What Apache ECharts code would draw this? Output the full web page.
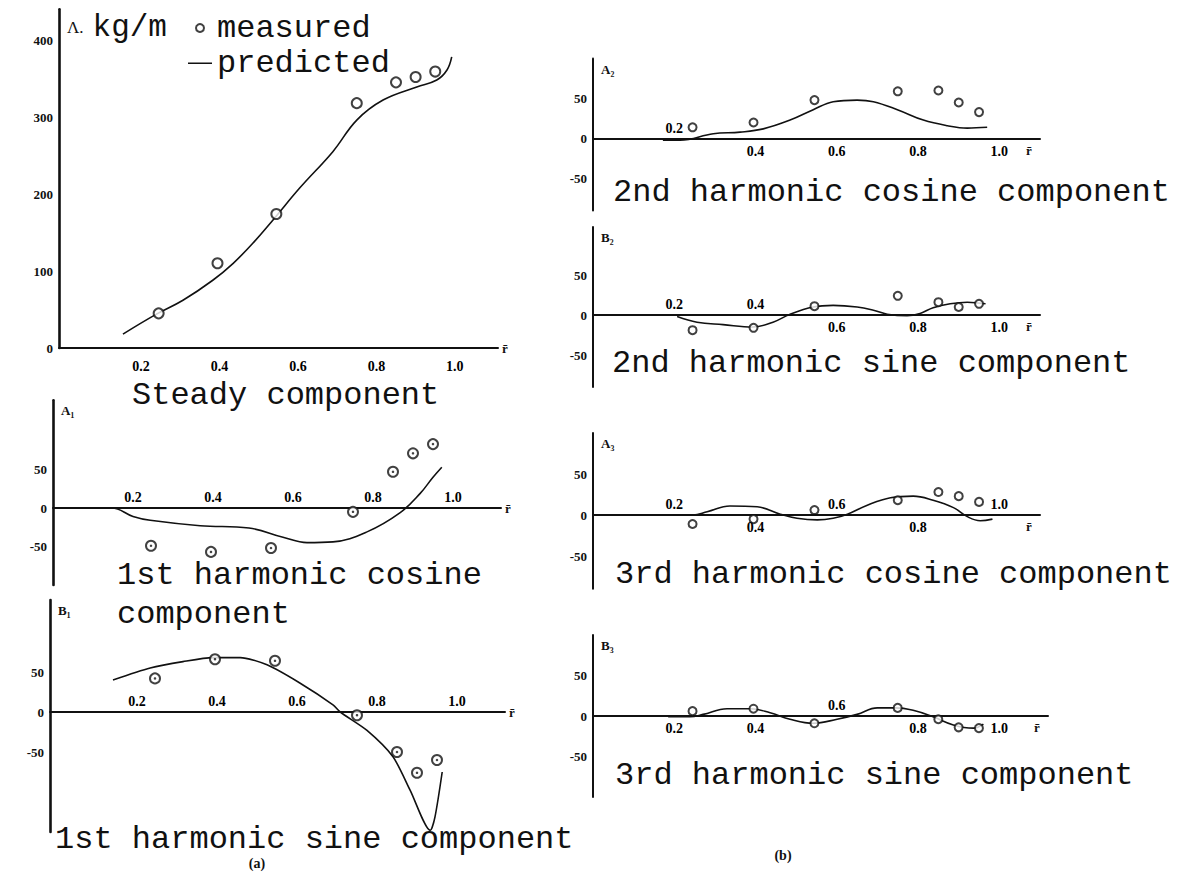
<!DOCTYPE html>
<html><head><meta charset="utf-8">
<script src="https://cdn.jsdelivr.net/npm/echarts@6/dist/echarts.min.js"></script>
<style>html,body{margin:0;padding:0;background:#fff}#c{width:1189px;height:877px}</style>
</head><body><div id="c"></div>
<script>
// ---- data ----
const rMeasured = [0.245, 0.395, 0.545, 0.75, 0.85, 0.90, 0.95];
const steadyMeasured = [45, 110, 174, 318, 345, 352, 359];
const a1Measured = [-49, -57, -52, -5, 47, 71, 83];
const b1Measured = [42, 66, 64, -4, -50, -76, -60];
const a2Measured = [14, 20, 48, 59, 60, 45, 33];
const b2Measured = [-19, -16, 11, 24, 16, 10, 14];
const a3Measured = [-11, -5, 6, 18, 28, 23, 16];
const b3Measured = [6, 9, -9, 10, -4, -14, -15];

const steadyPredR = [0.154, 0.236, 0.307, 0.383, 0.435, 0.485, 0.536, 0.605, 0.689, 0.75, 0.817, 0.903, 0.954, 0.98, 0.992];
const steadyPredV = [18, 43, 62, 88, 110, 136, 166, 208, 255, 296, 322, 339, 348, 361, 378];
const a1PredR = [0, 0.147, 0.2, 0.243, 0.368, 0.49, 0.575, 0.635, 0.70, 0.785, 0.868, 0.918, 0.95, 0.972];
const a1PredV = [0, 0, -11, -16, -23, -26, -38, -45, -44, -31, -6, 19, 40, 53];
const b1PredR = [0.14, 0.233, 0.315, 0.39, 0.458, 0.525, 0.608, 0.69, 0.708, 0.775, 0.84, 0.883, 0.933, 0.945, 0.963];
const b1PredV = [40, 55, 63, 68, 68, 59, 36, 9, 0, -23, -56, -98, -148, -131, -75];
const a2PredR = [0.172, 0.214, 0.296, 0.362, 0.419, 0.485, 0.542, 0.591, 0.65, 0.69, 0.749, 0.813, 0.872, 0.921, 0.97];
const a2PredV = [-2, -2, 6, 8, 12, 23, 36, 46, 48, 46, 36, 23, 16, 13, 14];
const b2PredR = [0.207, 0.256, 0.32, 0.394, 0.443, 0.485, 0.542, 0.591, 0.65, 0.69, 0.724, 0.773, 0.805, 0.837, 0.879, 0.921, 0.966];
const b2PredV = [-2, -9, -12, -15, -9, 1, 10, 12, 10, 6, 1, -1, 2, 9, 14, 16, 14];
const a3PredR = [0.197, 0.246, 0.281, 0.337, 0.404, 0.461, 0.502, 0.552, 0.591, 0.626, 0.675, 0.732, 0.788, 0.837, 0.887, 0.921, 0.953, 0.983];
const a3PredV = [0, 0, 4, 11, 10, 1, -4, -6, -4, 1, 12, 21, 23, 18, 9, -2, -7, -5];
const b3PredR = [0.185, 0.239, 0.271, 0.33, 0.387, 0.436, 0.485, 0.542, 0.601, 0.65, 0.70, 0.744, 0.788, 0.837, 0.887, 0.936, 0.961];
const b3PredV = [-1, -1, 2, 9, 9, 4, -4, -9, -4, 2, 10, 10, 7, -1, -11, -15, -10];

const xTickVals = [0.2, 0.4, 0.6, 0.8, 1.0];
const xTickText = ['0.2', '0.4', '0.6', '0.8', '1.0'];
const steadyYTicks = [0, 100, 200, 300, 400];
const harmYTicks = [-50, 0, 50];
const axisNames = ['Λ.kg/m', 'A₁', 'B₁', 'A₂', 'B₂', 'A₃', 'B₃'];
const captions = ['Steady component', '1st harmonic cosine', 'component', '1st harmonic sine component',
  '2nd harmonic cosine component', '2nd harmonic sine component', '3rd harmonic cosine component', '3rd harmonic sine component'];
const subLabels = ['(a)', '(b)'];
const legendNames = ['measured', 'predicted'];

// ---- layout ----
const SERIF = '"Liberation Serif", "DejaVu Serif", serif';
const MONO = '"Liberation Mono", "DejaVu Sans Mono", monospace';
const INK = '#111111';

const panels = [
  {g:{left:59, top:9.2, width:439, height:338.8}, x:[-0.009, 1.11], y:[0, 440], yi:100, yt:steadyYTicks,
   pr:steadyPredR, pv:steadyPredV, m:steadyMeasured, up:[0,0,0,0,0], right:false, sym:10, yw:2.6, dDown:11, dot:false},
  {g:{left:53, top:400.2, width:448, height:184.8}, x:[0, 1.12], y:[-100, 140], yi:10, yt:harmYTicks,
   pr:a1PredR, pv:a1PredV, m:a1Measured, up:[1,1,1,1,1], right:false, sym:10, yw:2.6, dot:true},
  {g:{left:50, top:600, width:455, height:232}, x:[-0.0175, 1.12], y:[-150, 140], yi:10, yt:harmYTicks,
   pr:b1PredR, pv:b1PredV, m:b1Measured, up:[1,1,1,1,1], right:false, sym:10, yw:2.6, smooth:0.25, dot:true},
  {g:{left:593, top:58.5, width:447, height:152}, x:[0, 1.10], y:[-90, 100], yi:10, yt:harmYTicks,
   pr:a2PredR, pv:a2PredV, m:a2Measured, up:[1,0,0,0,0], right:true, sym:8, yw:2},
  {g:{left:593, top:227, width:447, height:160}, x:[0, 1.10], y:[-90, 110], yi:10, yt:harmYTicks,
   pr:b2PredR, pv:b2PredV, m:b2Measured, up:[1,1,0,0,0], right:true, sym:8, yw:2},
  {g:{left:593, top:433, width:447, height:155.8}, x:[0, 1.10], y:[-90, 100], yi:10, yt:harmYTicks,
   pr:a3PredR, pv:a3PredV, m:a3Measured, up:[1,0,1,0,1], right:true, sym:8, yw:2},
  {g:{left:593, top:635, width:455, height:162}, x:[0, 1.12], y:[-100, 100], yi:10, yt:harmYTicks,
   pr:b3PredR, pv:b3PredV, m:b3Measured, up:[0,0,1,0,0], right:true, sym:8, yw:2}
];

const grid = [], xAxis = [], yAxis = [], series = [];
panels.forEach((p, i) => {
  grid.push(Object.assign({}, p.g));
  xAxis.push({
    gridIndex:i, type:'value', min:p.x[0], max:p.x[1],
    axisLine:{onZero:true, lineStyle:{color:INK, width:2}},
    axisTick:{show:false}, axisLabel:{show:false}, splitLine:{show:false},
    name:'r̄', nameLocation:'end', nameGap: p.right ? -14 : 4,
    nameTextStyle:{fontFamily:SERIF, fontWeight:'bold', fontSize:13, color:INK,
      verticalAlign: p.right ? 'top' : 'middle', padding: p.right ? [5,0,0,0] : 0}
  });
  const yt = p.yt;
  yAxis.push({
    gridIndex:i, type:'value', min:p.y[0], max:p.y[1], interval:p.yi,
    axisLine:{show:true, onZero:false, lineStyle:{color:INK, width:p.yw}},
    axisTick:{show:false}, splitLine:{show:false},
    axisLabel:{margin:6, fontFamily:SERIF, fontWeight:'bold', fontSize:13, color:INK,
      formatter: v => yt.indexOf(Math.round(v)) >= 0 && Math.abs(v - Math.round(v)) < 1e-6 ? String(Math.round(v)) : ''},
    name: i === 0 ? '{s|Λ.}{b|kg/m}' : axisNames[i], nameLocation:'end', nameGap: i === 0 ? -3 : -4,
    nameTextStyle: i === 0 ? {align:'left', verticalAlign:'top', padding:[0,0,0,8],
        rich:{s:{fontFamily:SERIF, fontSize:17, color:INK, padding:[0,9,0,0]}, b:{fontFamily:MONO, fontSize:31, color:INK}}}
      : {align:'left', verticalAlign:'top', padding:[0,0,0,8], fontFamily:SERIF, fontWeight:'bold', fontSize:13, color:INK}
  });
  series.push({
    type:'line', name: legendNames[1], xAxisIndex:i, yAxisIndex:i,
    data: p.pr.map((r, k) => [r, p.pv[k]]),
    smooth: p.smooth || 0.4, symbol:'none', silent:true, z:3,
    lineStyle:{color:INK, width:1.6}, itemStyle:{color:INK}
  });
  series.push({
    type:'scatter', name: legendNames[0], xAxisIndex:i, yAxisIndex:i,
    data: rMeasured.map((r, k) => [r, p.m[k]]),
    symbol:'emptyCircle', symbolSize:p.sym, silent:true, z:4,
    itemStyle:{color:INK, borderColor:INK, borderWidth:1.5}
  });
  if (p.dot) {
    series.push({
      type:'scatter', name:'centre' + i, xAxisIndex:i, yAxisIndex:i,
      data: rMeasured.map((r, k) => [r, p.m[k]]),
      symbol:'circle', symbolSize:2.5, silent:true, z:5, itemStyle:{color:INK}
    });
  }
  series.push({
    type:'scatter', name:'ticks' + i, xAxisIndex:i, yAxisIndex:i,
    data: xTickVals.map((v, k) => ({value:[v, 0], label:{position: p.up[k] ? 'top' : 'bottom',
      distance: p.up[k] ? 3 : (p.dDown || 5)}})),
    symbolSize:1, itemStyle:{color:'rgba(0,0,0,0)', borderWidth:0}, silent:true, z:6,
    label:{show:true, opacity:1, formatter: q => xTickText[q.dataIndex], fontFamily:SERIF, fontWeight:'bold',
      fontSize:14, color:'#000000', textBorderWidth:0}
  });
});

function cap(text, x, baseline) {
  return {type:'text', x:x, y:baseline - 24, silent:true,
    style:{text:text, fontFamily:MONO, fontSize:32, fill:INK, verticalAlign:'top'}};
}
const graphic = [
  cap(captions[0], 132, 403),
  cap(captions[1], 117, 583),
  cap(captions[2], 117, 622),
  cap(captions[3], 55, 847),
  cap(captions[4], 613, 200),
  cap(captions[5], 612, 371),
  cap(captions[6], 615, 582),
  cap(captions[7], 615, 783),
  {type:'text', x:257, y:863, silent:true, style:{text:subLabels[0], fontFamily:SERIF, fontWeight:'bold', fontSize:14, fill:INK, align:'center', verticalAlign:'middle'}},
  {type:'text', x:783, y:855, silent:true, style:{text:subLabels[1], fontFamily:SERIF, fontWeight:'bold', fontSize:14, fill:INK, align:'center', verticalAlign:'middle'}}
];

const chart = echarts.init(document.getElementById('c'), null, {renderer:'svg', width:1189, height:877});
chart.setOption({
  backgroundColor:'#ffffff',
  animation:false,
  legend:{
    data:[{name:legendNames[0], icon:'emptyCircle'},
          {name:legendNames[1], icon:'path://M0,0h0.01v0.01h-0.01z M0,3.4h24v1.6h-24z M23.99,7.99h0.01v0.01h-0.01z'}],
    orient:'vertical', left:183, top:6, itemWidth:24, itemHeight:8, itemGap:1, selectedMode:false,
    textStyle:{fontFamily:MONO, fontSize:32, color:INK, lineHeight:34}
  },
  grid, xAxis, yAxis, series, graphic
});
</script></body></html>
